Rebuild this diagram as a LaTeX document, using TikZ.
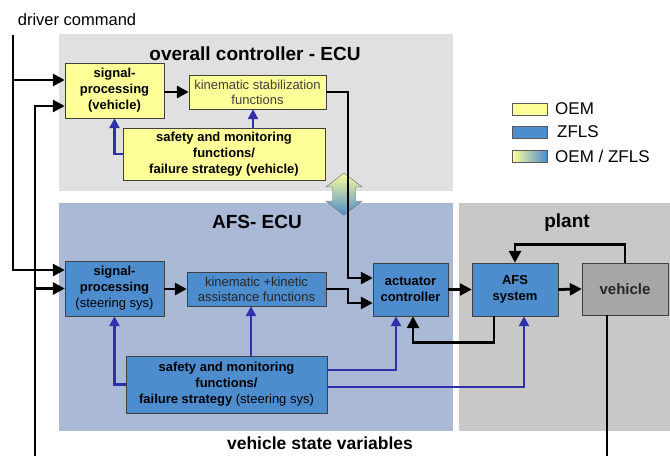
\documentclass[tikz,border=0pt]{standalone}
\usepackage{fontspec}
\setmainfont{Liberation Sans}
\usetikzlibrary{arrows.meta}
\definecolor{oemyellow}{RGB}{255,255,153}
\definecolor{zflsblue}{RGB}{77,141,206}
\definecolor{ecugray}{RGB}{224,224,224}
\definecolor{afsback}{RGB}{170,185,214}
\definecolor{plantgray}{RGB}{200,200,200}
\definecolor{vehgray}{RGB}{166,166,166}
\definecolor{monitorblue}{RGB}{48,48,170}
\tikzset{
regionbox/.style={rectangle, anchor=north west, inner sep=0pt},
yellowbox/.style={rectangle, draw=black!75, fill=oemyellow, inner sep=0pt, align=center, font=\fontsize{13}{16}\selectfont\bfseries},
bluebox/.style={rectangle, draw=black!75, fill=zflsblue, inner sep=0pt, align=center, font=\fontsize{13}{16}\selectfont\bfseries},
graybox/.style={rectangle, draw=black!75, fill=vehgray, inner sep=0pt, align=center, text=black!85, font=\fontsize{15}{18}\selectfont\bfseries},
plaintext/.style={font=\fontsize{13}{15}\selectfont\mdseries, text=black!75},
titletext/.style={inner sep=0pt, font=\fontsize{19}{22}\selectfont\bfseries},
legendbox/.style={rectangle, draw=black!65, inner sep=0pt, minimum width=35pt, minimum height=12pt},
legendtext/.style={anchor=west, inner sep=0pt, font=\fontsize{17}{20}\selectfont},
blackline/.style={line width=2.8pt, black},
blackarrow/.style={line width=2.8pt, black, -{Triangle[length=12pt,width=12pt]}},
bluearrow/.style={line width=2.4pt, monitorblue, -{Triangle[length=10pt,width=10pt]}},
}

\begin{document}
\begin{tikzpicture}[x=1pt,y=1pt]
\useasboundingbox (0,0) rectangle (670,-456);

\node[regionbox, fill=ecugray, minimum width=394pt, minimum height=157pt] at (59,-34) (ecu) {};
\node[regionbox, fill=afsback, minimum width=394pt, minimum height=228pt] at (59,-203) (afsecu) {};
\node[regionbox, fill=plantgray, minimum width=211pt, minimum height=228pt] at (459,-203) (plant) {};

\node[titletext] at (255,-54) (ecutitle) {overall controller - ECU};
\node[titletext] at (257,-222) (afstitle) {AFS- ECU};
\node[titletext] at (567,-223) (planttitle) {plant};
\node[inner sep=0pt, font=\fontsize{16.5}{20}\selectfont] at (77,-20) (cmd) {driver command};
\node[inner sep=0pt, font=\fontsize{17.5}{20}\selectfont\bfseries] at (320,-443) (statevars) {vehicle state variables};

\node[yellowbox, minimum width=99pt, minimum height=55pt] at (114.5,-90.5) (sp1) {signal-\\processing\\(vehicle)};
\node[yellowbox, plaintext, minimum width=137pt, minimum height=34pt] at (257.5,-92) (ks) {kinematic stabilization\\functions};
\node[yellowbox, minimum width=202pt, minimum height=52pt] at (224,-154) (sm1) {safety and monitoring\\functions/\\failure strategy (vehicle)};

\node[bluebox, minimum width=99pt, minimum height=55pt] at (114.5,-288.5) (sp2) {signal-\\processing\\{\mdseries (steering sys)}};
\node[bluebox, plaintext, text=black!85, minimum width=139pt, minimum height=34pt] at (256.5,-289) (kk) {kinematic +kinetic\\assistance functions};
\node[bluebox, minimum width=201pt, minimum height=57pt] at (226.5,-384.5) (sm2) {safety and monitoring\\functions/\\failure strategy {\mdseries (steering sys)}};
\node[bluebox, minimum width=75pt, minimum height=53pt] at (410.5,-289.5) (act) {actuator\\controller};
\node[bluebox, minimum width=86pt, minimum height=53pt] at (515,-289.5) (afs) {AFS\\system};
\node[graybox, minimum width=86pt, minimum height=52pt] at (625,-289) (veh) {vehicle};

\node[legendbox, fill=oemyellow] at (529.5,-109) (legoem) {};
\node[legendbox, fill=zflsblue] at (529.5,-132) (legzfls) {};
\node[legendbox, left color=oemyellow, right color=zflsblue] at (529.5,-156) (legmix) {};
\node[legendtext] at (555,-109) (legoemtext) {OEM};
\node[legendtext] at (557,-132) (legzflstext) {ZFLS};
\node[legendtext] at (555,-156) (legmixtext) {OEM / ZFLS};

\shade[top color=oemyellow, middle color=white!85!zflsblue, bottom color=zflsblue, draw=black!60, thin]
  (344,-173) -- (362,-187) -- (355.5,-187) -- (355.5,-201) -- (362,-201) -- (344,-215)
  -- (326,-201) -- (332.5,-201) -- (332.5,-187) -- (326,-187) -- cycle;

\coordinate (cmdtop) at (13,-35);
\coordinate (statein) at (35,-456);
\coordinate (stateout) at (607,-456);

\draw[blackarrow] (cmdtop) |- ([yshift=18.5pt]sp2.west);
\draw[blackarrow] ([yshift=10.5pt]sp1.west -| cmdtop) -- ([yshift=10.5pt]sp1.west);
\draw[blackarrow] (statein) |- ([yshift=-15.5pt]sp1.west);
\draw[blackarrow] (sp2.west -| statein) -- (sp2.west);

\draw[blackarrow] (sp1.east |- ks.west) -- (ks.west);
\draw[blackarrow] (sp2.east |- kk.west) -- (kk.west);
\draw[blackarrow] (ks.east) -| (348,-200) |- ([yshift=11.5pt]act.west);
\draw[blackarrow] (kk.east) -| (348,-295) |- ([yshift=-13.5pt]act.west);
\draw[blackarrow] (act.east) -- (afs.west);
\draw[blackarrow] (afs.east) -- (veh.west);
\draw[blackarrow] (veh.north) -- ++(0,18) -| (afs.north);
\draw[blackarrow] ([xshift=-21pt]afs.south) -- ++(0,-26) -| ([xshift=2.5pt]act.south);
\draw[blackline] ([xshift=-18pt]veh.south) -- (stateout);

\draw[bluearrow] (sm1.west) -| (sp1.south);
\draw[bluearrow] ([xshift=-4.5pt]ks.south |- sm1.north) -- ([xshift=-4.5pt]ks.south);
\draw[bluearrow] (sm2.west) -| (sp2.south);
\draw[bluearrow] ([xshift=-5.5pt]kk.south |- sm2.north) -- ([xshift=-5.5pt]kk.south);
\draw[bluearrow] ([yshift=14.5pt]sm2.east) -| ([xshift=-14.5pt]act.south);
\draw[bluearrow] ([yshift=-2.5pt]sm2.east) -| ([xshift=9pt]afs.south);
\end{tikzpicture}
\end{document}
